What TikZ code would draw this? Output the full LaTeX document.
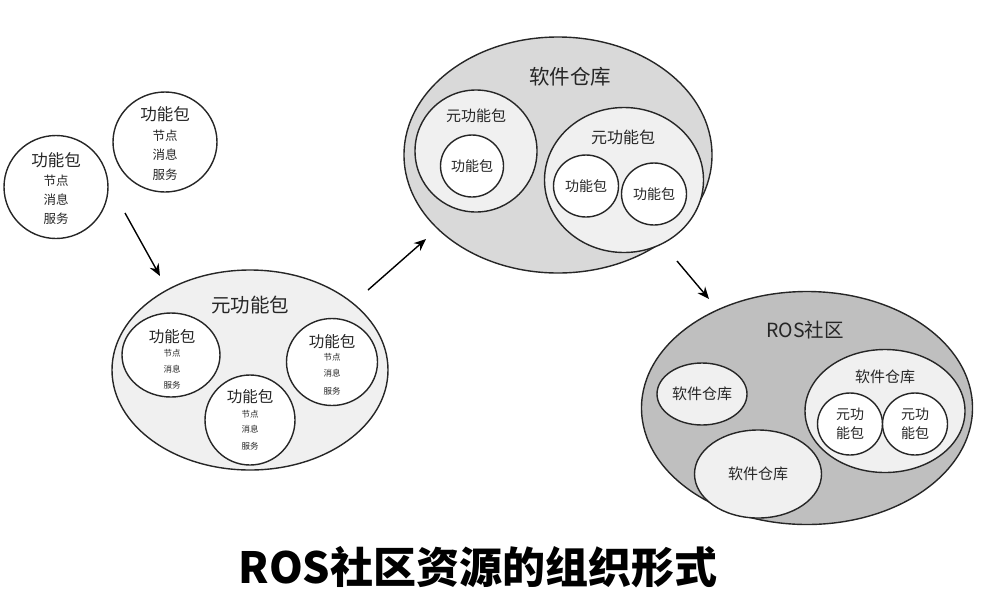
\documentclass[tikz,border=0pt]{standalone}
\usepackage{fontspec}
\setmainfont{Noto Sans CJK SC}
\usetikzlibrary{shapes.geometric,arrows.meta}
\newcommand\fsz[1]{\fontsize{#1}{#1}\selectfont}
\newcommand\fszl{\fontsize{14}{19}\selectfont}
\definecolor{ink}{HTML}{262626}
\definecolor{fillA}{HTML}{F0F0F0}
\definecolor{fillB}{HTML}{D9D9D9}
\definecolor{fillC}{HTML}{BFBFBF}
\tikzset{
  blob/.style={ellipse, draw=ink, line width=1.4pt, inner sep=0pt},
  txt/.style={text=ink, inner sep=0pt, anchor=center},
  big/.style={txt, font=\fsz{20.5}},
  mid/.style={txt, font=\fsz{16.5}},
  sml/.style={txt, font=\fsz{15}},
  tiny/.style={txt, font=\fsz{12.5}},
  micro/.style={txt, font=\fsz{8.5}},
  twoline/.style={txt, align=center, font=\fszl},
  flow/.style={draw=black, line width=1.4pt, -{Stealth[length=12pt,width=10pt]}},
}
\begin{document}
\begin{tikzpicture}[x=1pt,y=-1pt]
\useasboundingbox (0,0) rectangle (982,595);
% loose packages
\node[blob, fill=white, minimum width=104pt, minimum height=103pt] (pa) at (56,187) {};
\node[mid] (pat) at (56,160) {功能包};
\node[tiny] (pa1) at (56,181) {节点};
\node[tiny] (pa2) at (56,200) {消息};
\node[tiny] (pa3) at (56,219) {服务};
\node[blob, fill=white, minimum width=104pt, minimum height=100pt] (pb) at (165,142) {};
\node[mid] (pbt) at (165,114) {功能包};
\node[tiny] (pb1) at (165,136) {节点};
\node[tiny] (pb2) at (165,155) {消息};
\node[tiny] (pb3) at (165,175) {服务};
% metapackage
\node[blob, fill=fillA, minimum width=276pt, minimum height=200pt] (meta) at (250,370) {};
\node[big, font=\fsz{19.5}] (metat) at (250,305) {元功能包};
\node[blob, fill=white, minimum width=98pt, minimum height=84pt] (m1) at (171,355) {};
\node[mid, font=\fsz{15.5}] (m1t) at (172,337) {功能包};
\node[micro] (m11) at (172,353) {节点};
\node[micro] (m12) at (172,369) {消息};
\node[micro] (m13) at (172,385) {服务};
\node[blob, fill=white, minimum width=91pt, minimum height=87pt] (m2) at (332,362) {};
\node[mid, font=\fsz{15.5}] (m2t) at (332,342) {功能包};
\node[micro] (m21) at (332,357) {节点};
\node[micro] (m22) at (332,373) {消息};
\node[micro] (m23) at (332,391) {服务};
\node[blob, fill=white, minimum width=90pt, minimum height=90pt] (m3) at (250,420) {};
\node[mid, font=\fsz{15.5}] (m3t) at (250,397) {功能包};
\node[micro] (m31) at (250,414) {节点};
\node[micro] (m32) at (250,429) {消息};
\node[micro] (m33) at (250,446) {服务};
% repository
\node[blob, fill=fillB, minimum width=308pt, minimum height=236pt] (repo) at (558,155) {};
\node[big] (repot) at (570,77) {软件仓库};
\node[blob, fill=fillA, minimum width=122pt, minimum height=122pt] (r1) at (476,151) {};
\node[sml] (r1t) at (476,116) {元功能包};
\node[blob, fill=white, minimum width=63pt, minimum height=62pt] (r1a) at (472,166) {};
\node[tiny, font=\fsz{14}] (r1at) at (472,166) {功能包};
\node[blob, fill=fillA, minimum width=159pt, minimum height=145pt] (r2) at (624,180) {};
\node[sml, font=\fsz{16}] (r2t) at (623,137) {元功能包};
\node[blob, fill=white, minimum width=65pt, minimum height=62pt] (r2a) at (586,186) {};
\node[tiny, font=\fsz{14}] (r2at) at (586,186) {功能包};
\node[blob, fill=white, minimum width=65pt, minimum height=62pt] (r2b) at (654,194) {};
\node[tiny, font=\fsz{14}] (r2bt) at (654,194) {功能包};
% community
\node[blob, fill=fillC, minimum width=331pt, minimum height=233pt] (ros) at (807,408) {};
\node[big, font=\fsz{19.5}] (rost) at (805,330) {ROS社区};
\node[blob, fill=fillA, minimum width=90pt, minimum height=62pt] (c1) at (702,394) {};
\node[sml] (c1t) at (702,394) {软件仓库};
\node[blob, fill=fillA, minimum width=127pt, minimum height=88pt] (c2) at (758,474) {};
\node[sml] (c2t) at (758,474) {软件仓库};
\node[blob, fill=fillA, minimum width=160pt, minimum height=123pt] (c3) at (885,411) {};
\node[sml] (c3t) at (885,377) {软件仓库};
\node[blob, fill=white, minimum width=65pt, minimum height=62pt] (c3a) at (850,424) {};
\node[twoline] (c3at) at (850,424) {元功\\能包};
\node[blob, fill=white, minimum width=65pt, minimum height=62pt] (c3b) at (915,424) {};
\node[twoline] (c3bt) at (915,424) {元功\\能包};
% arrows
\coordinate (a1s) at (125,213);
\coordinate (a1e) at (160,276);
\coordinate (a2s) at (368,290);
\coordinate (a2e) at (426,239);
\coordinate (a3s) at (677,261);
\coordinate (a3e) at (709,299);
\draw[flow] (a1s) -- (a1e);
\draw[flow] (a2s) -- (a2e);
\draw[flow] (a3s) -- (a3e);
% title
\node[txt, text=black, font=\fsz{43}\bfseries] (title) at (478,567) {ROS社区资源的组织形式};
\end{tikzpicture}
\end{document}
